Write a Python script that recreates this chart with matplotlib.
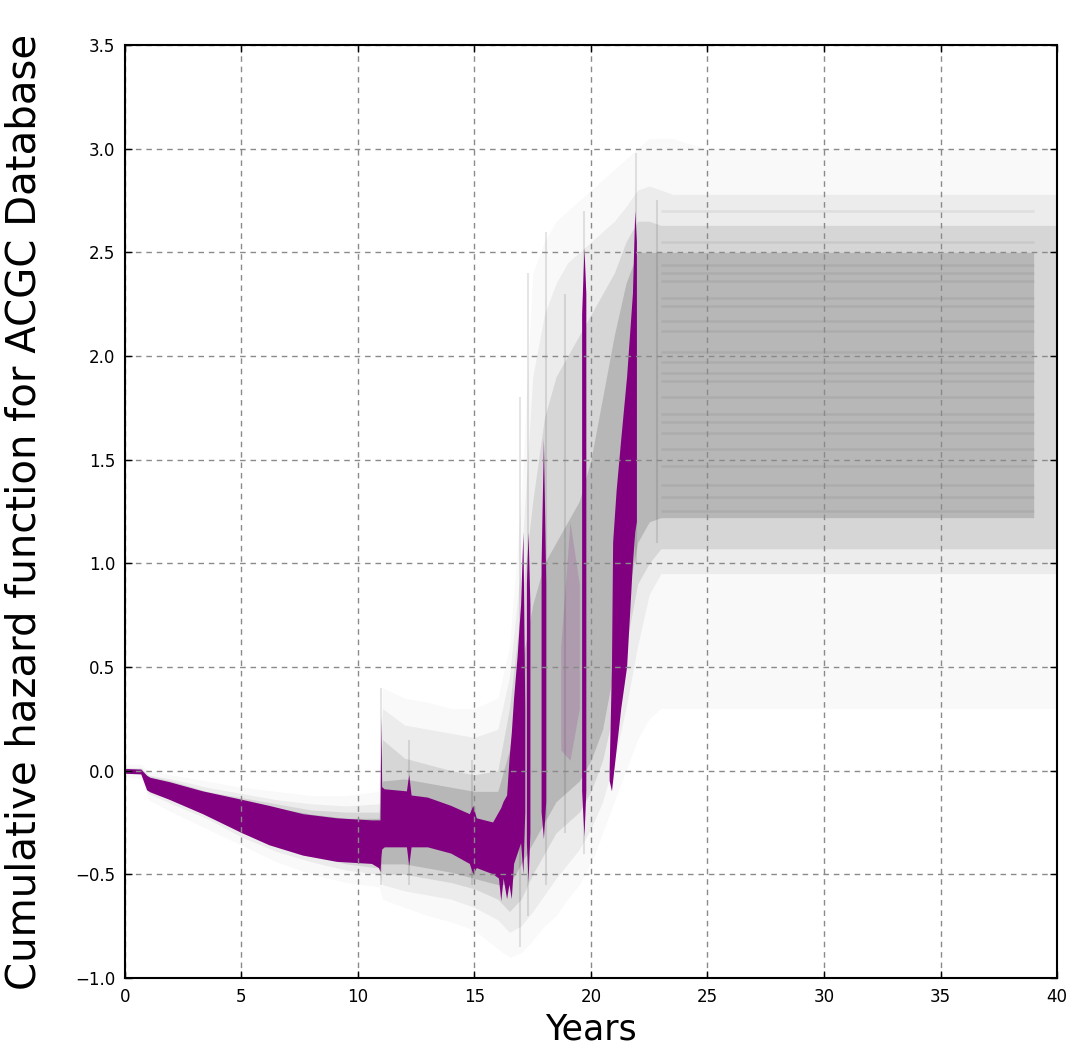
import numpy as np
import matplotlib
matplotlib.use("Agg")
import matplotlib.pyplot as plt

nan = np.nan

# ---------------- data ----------------
x_ticks = [0, 5, 10, 15, 20, 25, 30, 35, 40]
y_ticks = [-1.0, -0.5, 0.0, 0.5, 1.0, 1.5, 2.0, 2.5, 3.0, 3.5]

# knots (years) for the grey posterior-sample envelopes
gray_x = [0, 0.7, 1.0, 2, 3.5, 5, 6.5, 8, 9.5, 10.9, 11.05, 12, 13, 14, 15, 16, 16.5,
          17, 17.5, 18, 18.5, 19, 19.5, 20, 20.5, 21, 21.5, 22, 22.5, 23, 23.5, 24, 25, 39, 40]

gray_outer_lo = [-0.03, -0.04, -0.14, -0.2, -0.28, -0.36, -0.44, -0.5, -0.54, -0.56, -0.62, -0.66, -0.7,
                 -0.73, -0.77, -0.86, -0.9, -0.88, -0.82, -0.75, -0.7, -0.62, -0.55, -0.45, -0.3, -0.15,
                 0.0, 0.15, 0.25, 0.3, 0.3, 0.3, 0.3, 0.3, 0.3]
gray_outer_hi = [0.03, 0.03, 0.0, -0.02, -0.05, -0.08, -0.1, -0.12, -0.12, -0.1, 0.4, 0.35, 0.33,
                 0.3, 0.3, 0.35, 0.6, 1.3, 2.4, 2.55, 2.65, 2.7, 2.75, 2.8, 2.85, 2.9, 2.95, 3.0,
                 3.05, 3.05, 3.05, 3.03, 3.0, 3.0, 3.0]

gray_wide_lo = [-0.015, -0.02, -0.11, -0.16, -0.23, -0.32, -0.39, -0.44, -0.48, -0.5, -0.55, -0.58, -0.6,
                -0.62, -0.66, -0.72, -0.78, -0.75, -0.68, -0.6, -0.52, -0.45, -0.38, -0.28, -0.15, 0.05,
                0.3, 0.6, 0.85, 0.95, 0.95, 0.95, 0.95, 0.95, 0.95]
gray_wide_hi = [0.015, 0.015, -0.02, -0.04, -0.08, -0.11, -0.14, -0.16, -0.17, -0.16, 0.3, 0.22, 0.2,
                0.18, 0.16, 0.2, 0.45, 1.0, 1.9, 2.2, 2.35, 2.45, 2.5, 2.55, 2.6, 2.65, 2.72, 2.8,
                2.82, 2.8, 2.78, 2.78, 2.78, 2.78, 2.78]

gray_mid_lo = [-0.01, -0.015, -0.1, -0.14, -0.21, -0.3, -0.36, -0.41, -0.45, -0.47, -0.5, -0.5, -0.52,
               -0.54, -0.57, -0.62, -0.68, -0.62, -0.5, -0.4, -0.3, -0.25, -0.2, -0.1, 0.05, 0.3,
               0.6, 0.9, 1.0, 1.07, 1.07, 1.07, 1.07, 1.07, 1.07]
gray_mid_hi = [0.01, 0.01, -0.025, -0.05, -0.1, -0.13, -0.16, -0.19, -0.2, -0.2, 0.15, 0.06, 0.03,
               0.0, -0.02, 0.0, 0.3, 0.8, 1.3, 1.7, 1.9, 2.0, 2.1, 2.2, 2.3, 2.4, 2.55, 2.65,
               2.65, 2.63, 2.63, 2.63, 2.63, 2.63, 2.63]

gray_core_lo = [-0.01, -0.01, -0.09, -0.13, -0.2, -0.29, -0.35, -0.4, -0.43, -0.45, -0.45, -0.45, -0.47,
                -0.49, -0.52, -0.55, -0.55, -0.45, -0.35, -0.25, -0.15, -0.1, -0.05, 0.05, 0.2, 0.5,
                0.8, 1.1, 1.2, 1.22, 1.22, 1.22, 1.22, 1.22, nan]
gray_core_hi = [0.0, 0.0, -0.03, -0.06, -0.11, -0.15, -0.18, -0.21, -0.23, -0.23, -0.05, -0.04, -0.06,
                -0.08, -0.1, -0.1, 0.1, 0.5, 0.8, 1.0, 1.1, 1.2, 1.3, 1.5, 1.8, 2.1, 2.35, 2.5,
                2.5, 2.5, 2.5, 2.5, 2.5, 2.5, nan]

# thin vertical grey jumps (year, bottom, top)
spike_x = [11.0, 12.2, 14.9, 16.95, 17.3, 18.05, 18.9, 19.72, 21.95, 22.85]
spike_lo = [-0.55, -0.55, -0.55, -0.85, -0.7, -0.55, -0.3, -0.4, 1.0, 1.1]
spike_hi = [0.4, 0.15, 0.05, 1.8, 2.4, 2.6, 2.3, 2.7, 2.98, 2.75]

# horizontal streak levels in the flat tail of the sample paths
streak_levels = [1.25, 1.32, 1.38, 1.47, 1.55, 1.63, 1.68, 1.72, 1.8, 1.88, 1.92, 1.97, 2.02,
                 2.12, 2.17, 2.24, 2.28, 2.36, 2.4, 2.44, 2.55, 2.7]
streak_start = 23.0
streak_end = 39.0

# purple credible band, segments separated by nan
purple_x = [0.0, 0.7, 0.95, 1.1, 1.9, 3.35, 5.0, 6.2, 7.65, 9.1, 10.6, 10.9, 10.97, 11.0, 11.04, 11.15,
            12.1, 12.2, 12.3, 13.0, 14.0, 14.8, 14.95, 15.1, 15.8, 16.05, 16.15, 16.25, 16.4, 16.5,
            16.6, 16.7, 16.85, 17.0, 17.1, 17.18,
            nan, 17.25, 17.32, 17.4,
            nan, 17.88, 17.98, 18.08,
            nan, 19.62, 19.72, 19.8,
            nan, 20.8, 20.9, 20.95, 21.1, 21.3, 21.55, 21.8, 21.9, 21.97]
purple_lo = [-0.015, -0.018, -0.095, -0.105, -0.14, -0.21, -0.30, -0.36, -0.41, -0.44, -0.45, -0.47, -0.49,
             -0.42, -0.38, -0.37, -0.37, -0.46, -0.37, -0.37, -0.40, -0.45, -0.50, -0.47, -0.50, -0.52,
             -0.63, -0.52, -0.62, -0.55, -0.62, -0.45, -0.40, -0.35, -0.50, -0.20,
             nan, -0.35, -0.54, -0.30,
             nan, -0.20, -0.33, -0.15,
             nan, -0.10, -0.32, -0.10,
             nan, -0.05, -0.10, -0.05, 0.10, 0.30, 0.50, 1.00, 1.15, 1.20]
purple_hi = [0.008, 0.005, -0.025, -0.035, -0.055, -0.10, -0.14, -0.17, -0.21, -0.23, -0.24, -0.24, -0.24,
             0.26, -0.08, -0.09, -0.10, -0.02, -0.12, -0.13, -0.17, -0.21, -0.17, -0.23, -0.25, -0.20,
             -0.18, -0.15, -0.12, 0.05, 0.18, 0.35, 0.55, 0.80, 1.15, 0.30,
             nan, 0.90, 1.15, 0.80,
             nan, 1.00, 1.60, 0.90,
             nan, 2.20, 2.52, 2.30,
             nan, 0.00, 0.50, 1.10, 1.35, 1.60, 1.90, 2.30, 2.70, 2.55]

# faint purple patch between the jumps
faint_x = [18.7, 19.1, 19.5]
faint_lo = [0.1, 0.05, 0.3]
faint_hi = [0.6, 1.2, 0.9]

# ---------------- drawing ----------------
plt.rcParams['font.family'] = ['DejaVu Sans']
fig = plt.figure(figsize=(10.82, 10.63), dpi=100)
ax = fig.add_axes([0.1155, 0.0800, 0.8614, 0.8777])

gx = np.array(gray_x, dtype=float)
for lo, hi, a in [(gray_outer_lo, gray_outer_hi, 0.025),
                  (gray_wide_lo, gray_wide_hi, 0.05),
                  (gray_mid_lo, gray_mid_hi, 0.09),
                  (gray_core_lo, gray_core_hi, 0.14)]:
    ax.fill_between(gx, np.array(lo, float), np.array(hi, float),
                    color='black', alpha=a, lw=0, zorder=2)

ax.hlines(streak_levels, streak_start, streak_end, colors='black', alpha=0.06, lw=1.8, zorder=2)
ax.vlines(spike_x, spike_lo, spike_hi, colors='black', alpha=0.10, lw=1.5, zorder=2)

ax.fill_between(np.array(faint_x), np.array(faint_lo), np.array(faint_hi),
                color='#800080', alpha=0.15, lw=0, zorder=3)
ax.fill_between(np.array(purple_x, float), np.array(purple_lo, float), np.array(purple_hi, float),
                color='#800080', lw=0, zorder=4)

ax.set_xlim(0, 40)
ax.set_ylim(-1.0, 3.5)
ax.set_xticks(x_ticks)
ax.set_yticks(y_ticks)
ax.set_xticklabels([str(v) for v in x_ticks])
ax.set_yticklabels([f"{v:.1f}".replace('-', '\u2212') for v in y_ticks])

ax.grid(True, color='#8a8a8a', linestyle=(0, (4, 3.5)), lw=1.0)
ax.xaxis.set_zorder(5)
ax.yaxis.set_zorder(5)
for s in ax.spines.values():
    s.set_linewidth(1.5)
    s.set_color('black')
    s.set_zorder(6)
ax.tick_params(direction='in', top=True, right=True, length=5, width=1, labelsize=12,
               pad=7, colors='black')

ax.set_xlabel('Years', fontsize=25, labelpad=5)
ax.set_ylabel('Cumulative hazard function for ACGC Database', fontsize=29, labelpad=22)

fig.savefig('out.png', dpi=100, facecolor='white')
